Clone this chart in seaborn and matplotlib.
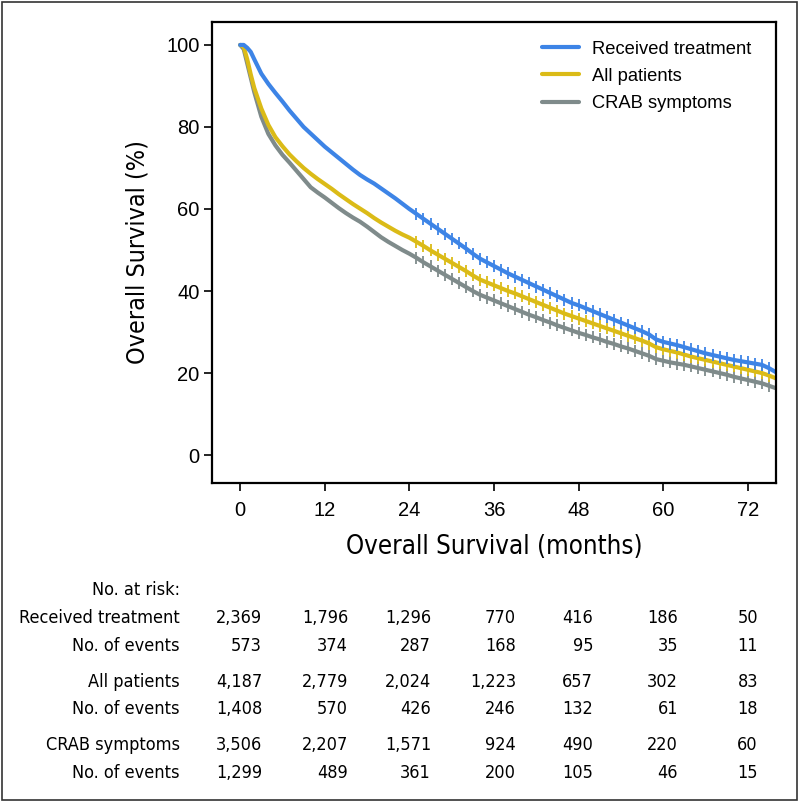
import numpy as np
import pandas as pd
import matplotlib
matplotlib.use('Agg')
import matplotlib.pyplot as plt
import seaborn as sns
from matplotlib.lines import Line2D
from matplotlib.patches import Rectangle
from matplotlib import font_manager

# -------------------------------
# Data
# -------------------------------
months = [0, 0.5, 1, 1.5, 2, 3, 4, 5, 6, 7, 8, 9, 10, 11, 12, 13, 14, 15, 16, 17, 18,
          19, 20, 21, 22, 23, 24, 25, 26, 27, 28, 29, 30, 31, 32, 33, 34, 35, 36, 37,
          38, 39, 40, 41, 42, 43, 44, 45, 46, 47, 48, 49, 50, 51, 52, 53, 54, 55, 56,
          57, 58, 59, 60, 61, 62, 63, 64, 65, 66, 67, 68, 69, 70, 71, 72, 73, 74, 75, 76]

received_treatment = [100, 100, 99.3, 98.3, 96.5, 93, 90.5, 88.3, 86.2, 84, 82, 80, 78.4,
                      76.8, 75.2, 73.8, 72.4, 71, 69.6, 68.3, 67.2, 66.2, 65, 63.8, 62.6,
                      61.3, 60, 58.8, 57.6, 56.4, 55.2, 54, 52.8, 51.6, 50.4, 49.1, 47.9,
                      47, 46.1, 45.2, 44.3, 43.5, 42.7, 41.9, 41.1, 40.3, 39.5, 38.7, 37.9,
                      37.1, 36.5, 35.8, 35.1, 34.4, 33.7, 33, 32.3, 31.6, 30.9, 30.2, 29.4,
                      28.2, 27.6, 27.2, 26.8, 26.3, 25.8, 25.3, 24.8, 24.4, 24, 23.6, 23.2,
                      22.9, 22.6, 22.3, 22, 21.2, 20.2]

all_patients = [100, 99.5, 96.5, 92.8, 89.5, 84.5, 80.5, 77.5, 75.3, 73.3, 71.6, 70, 68.6,
                67.3, 66.1, 64.9, 63.6, 62.4, 61.2, 60.1, 59, 57.8, 56.7, 55.7, 54.7, 53.8,
                53, 52, 51, 49.9, 48.9, 47.9, 46.9, 45.9, 44.9, 43.8, 42.8, 42.1, 41.4,
                40.7, 40, 39.4, 38.7, 38, 37.3, 36.6, 35.9, 35.2, 34.5, 33.9, 33.3, 32.7,
                32.1, 31.5, 30.9, 30.3, 29.7, 29.1, 28.5, 27.9, 27.2, 26.3, 25.8, 25.4,
                25, 24.5, 24, 23.6, 23.2, 22.8, 22.4, 22, 21.6, 21.2, 20.8, 20.4, 20,
                19.4, 18.7]

crab_symptoms = [100, 99, 95.5, 92, 88.5, 82.5, 78.3, 75.5, 73.2, 71.3, 69.3, 67.3, 65.3,
                 64, 62.8, 61.5, 60.2, 59, 57.9, 56.9, 55.7, 54.4, 53.1, 52, 51, 50, 49.1,
                 48.1, 47, 46, 45, 44, 43, 42, 41, 40, 39.1, 38.4, 37.7, 37, 36.3, 35.6,
                 34.9, 34.2, 33.6, 32.9, 32.3, 31.6, 31, 30.4, 29.8, 29.3, 28.7, 28.2,
                 27.6, 27.1, 26.5, 26, 25.4, 24.8, 24.2, 23.4, 23, 22.6, 22.3, 22, 21.6,
                 21.2, 20.8, 20.4, 20, 19.6, 19.1, 18.7, 18.3, 17.9, 17.5, 16.9, 16.3]

group_names = ['Received treatment', 'All patients', 'CRAB symptoms']
group_colors = ['#3d84e6', '#dbbb17', '#7f8b8b']

x_ticks = [0, 12, 24, 36, 48, 60, 72]
y_ticks = [0, 20, 40, 60, 80, 100]

# risk table
table_labels = ['Received treatment', 'No. of events', 'All patients', 'No. of events',
                'CRAB symptoms', 'No. of events']
rt_at_risk = ['2,369', '1,796', '1,296', '770', '416', '186', '50']
rt_events = ['573', '374', '287', '168', '95', '35', '11']
all_at_risk = ['4,187', '2,779', '2,024', '1,223', '657', '302', '83']
all_events = ['1,408', '570', '426', '246', '132', '61', '18']
crab_at_risk = ['3,506', '2,207', '1,571', '924', '490', '220', '60']
crab_events = ['1,299', '489', '361', '200', '105', '46', '15']
table_rows = [rt_at_risk, rt_events, all_at_risk, all_events, crab_at_risk, crab_events]

# long-form table for seaborn
df = pd.DataFrame({
    'month': months * 3,
    'survival': received_treatment + all_patients + crab_symptoms,
    'group': [g for g in group_names for _ in months],
})

# censor marks start at 25 months
first_censor = months.index(25)

# -------------------------------
# Plot
# -------------------------------
sns.set_style('ticks')
plt.rcParams['font.family'] = ['Liberation Sans', 'DejaVu Sans']
plt.rcParams['text.color'] = 'black'
plt.rcParams['xtick.color'] = 'black'
plt.rcParams['ytick.color'] = 'black'
plt.rcParams['axes.labelcolor'] = 'black'

# condensed face for the axis titles and the table
cond = [f for f in font_manager.fontManager.ttflist
        if f.name == 'DejaVu Sans' and 'ondensed' in f.fname and f.weight in (400, 'normal')
        and f.style == 'normal']
if cond:
    narrow = font_manager.FontProperties(fname=cond[0].fname)
else:
    narrow = font_manager.FontProperties(family='DejaVu Sans', stretch='condensed')

def nfont(size):
    fp = narrow.copy()
    fp.set_size(size)
    return fp

fig = plt.figure(figsize=(7.99, 8.02), dpi=100)
ax = fig.add_axes([0.2653, 0.3978, 0.7059, 0.5748])

sns.lineplot(data=df, x='month', y='survival', hue='group', hue_order=group_names[::-1],
             palette=dict(zip(group_names, group_colors)), linewidth=3,
             marker='|', markersize=9, markeredgewidth=1.3,
             markevery=slice(first_censor, None), legend=False, ax=ax)
for ln in ax.lines:
    ln.set_markeredgecolor(ln.get_color())
    ln.set_markerfacecolor(ln.get_color())

ax.set_xlim(-4, 76)
ax.set_ylim(-6.8, 105.6)
ax.set_xticks(x_ticks)
ax.set_yticks(y_ticks)
ax.tick_params(axis='both', labelsize=14.5, length=6, width=1.2, color='black')
ax.tick_params(axis='x', pad=7)
ax.tick_params(axis='y', pad=3)
for s in ax.spines.values():
    s.set_linewidth(1.6)
    s.set_color('black')

ax.set_xlabel('Overall Survival (months)', fontproperties=nfont(18.5), labelpad=10)
ax.set_ylabel('Overall Survival (%)', fontproperties=nfont(18), labelpad=12)

handles = [Line2D([0], [0], color=c, lw=3) for c in group_colors]
ax.legend(handles, group_names, loc='upper right', frameon=False, fontsize=13.2,
          handlelength=2.0, handletextpad=0.7, labelspacing=0.55,
          bbox_to_anchor=(0.985, 0.995))

# risk table below the axes
W, H = 799, 802
fs_table = 13
fig.text(180 / W, 1 - 590 / H, 'No. at risk:', ha='right', va='center',
         fontproperties=nfont(fs_table))
row_y = [618, 646, 682, 709, 745, 773]
col_x = [262, 348, 431, 516, 593, 678, 758]
for label, vals, y in zip(table_labels, table_rows, row_y):
    fig.text(180 / W, 1 - y / H, label, ha='right', va='center', fontproperties=nfont(fs_table))
    for v, x in zip(vals, col_x):
        fig.text(x / W, 1 - y / H, v, ha='right', va='center', fontproperties=nfont(fs_table))

# border around the figure
fig.patches.append(Rectangle((2 / W, 2 / H), 1 - 4 / W, 1 - 4 / H, transform=fig.transFigure,
                             fill=False, edgecolor='#333333', linewidth=1.2))

plt.savefig('out.png', dpi=100)
